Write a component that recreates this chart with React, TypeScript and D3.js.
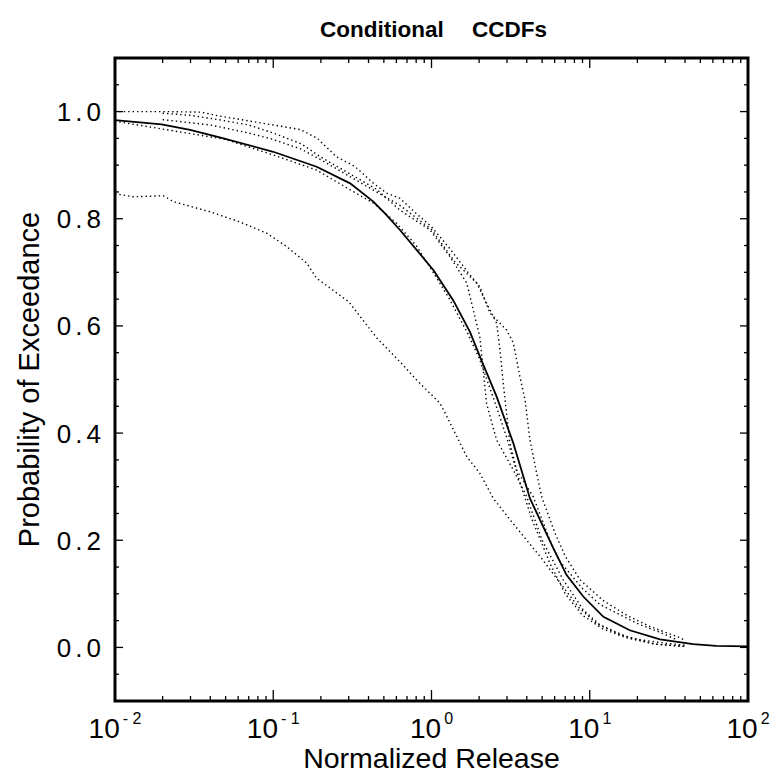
import React from "react";
import * as d3 from "d3";

// ---- data ----
type Pt = [number, number];

const meanCurve: Pt[] = [
  [0.01, 0.984], [0.0197, 0.976], [0.0298, 0.966], [0.0472, 0.951], [0.1, 0.925],
  [0.188, 0.897], [0.306, 0.866], [0.429, 0.832], [0.508, 0.81], [0.632, 0.779],
  [1.03, 0.704], [1.37, 0.648], [1.75, 0.589], [2.02, 0.543], [2.58, 0.468],
  [3.29, 0.381], [4.19, 0.278], [5.89, 0.185], [7.14, 0.135], [9.1, 0.095],
  [12.2, 0.057], [17.9, 0.032], [27.8, 0.015], [45, 0.006], [63, 0.003], [100, 0.002],
];

const seriesA: Pt[] = [
  [0.01, 1.0], [0.02, 1.0], [0.035, 0.999], [0.045, 0.992], [0.1, 0.975], [0.15, 0.966],
  [0.19, 0.95], [0.25, 0.916], [0.33, 0.897], [0.43, 0.866], [0.52, 0.848], [0.632, 0.838],
  [0.8, 0.81], [1.0, 0.785], [1.3, 0.745], [1.7, 0.7], [2.02, 0.673], [2.34, 0.624],
  [2.99, 0.592], [3.29, 0.568], [3.62, 0.505], [3.9, 0.462], [4.19, 0.387], [4.62, 0.325],
  [4.97, 0.281], [6.0, 0.215], [7.0, 0.17], [8.7, 0.126], [12.1, 0.088], [17.1, 0.06],
  [24, 0.039], [33.6, 0.023], [38, 0.017], [40, 0.012],
];

const seriesB: Pt[] = [
  [0.02, 0.997], [0.03, 0.993], [0.045, 0.985], [0.07, 0.975], [0.1, 0.96], [0.15, 0.94],
  [0.2, 0.915], [0.3, 0.885], [0.45, 0.855], [0.632, 0.816], [0.98, 0.779], [1.31, 0.729],
  [1.67, 0.68], [1.75, 0.655], [2.02, 0.58], [2.12, 0.518], [2.23, 0.455], [2.58, 0.387],
  [3.29, 0.331], [4.0, 0.281], [5.0, 0.2], [6.8, 0.126], [9.1, 0.07], [11.6, 0.042],
  [17.1, 0.02], [26, 0.006], [39, 0.002],
];

const seriesC: Pt[] = [
  [0.02, 0.985], [0.04, 0.975], [0.07, 0.96], [0.1, 0.948], [0.15, 0.93], [0.2, 0.91],
  [0.3, 0.88], [0.45, 0.85], [0.632, 0.825], [1.0, 0.78], [1.4, 0.72], [1.93, 0.68],
  [2.23, 0.642], [2.58, 0.605], [2.71, 0.555], [2.84, 0.493], [3.13, 0.381], [3.45, 0.331],
  [4.4, 0.281], [5.6, 0.2], [6.5, 0.16], [9.0, 0.11], [11.6, 0.08], [19.8, 0.045],
  [27.8, 0.028], [35, 0.015],
];

const seriesD: Pt[] = [
  [0.01, 0.982], [0.05, 0.948], [0.1, 0.919], [0.188, 0.891], [0.306, 0.854], [0.43, 0.829],
  [0.6, 0.792], [0.8, 0.75], [1.0, 0.705], [1.3, 0.65], [1.7, 0.585], [2.0, 0.54],
  [2.5, 0.46], [3.0, 0.39], [3.6, 0.31], [4.3, 0.24], [5.6, 0.157], [7.0, 0.1],
  [9.0, 0.06], [12, 0.035], [17, 0.018], [26, 0.006], [40, 0.002],
];

const seriesE: Pt[] = [
  [0.01, 0.847], [0.013, 0.841], [0.0202, 0.843], [0.0234, 0.832], [0.0398, 0.813],
  [0.0617, 0.794], [0.091, 0.773], [0.1217, 0.748], [0.163, 0.717], [0.188, 0.689],
  [0.3, 0.645], [0.45, 0.578], [0.632, 0.533], [0.805, 0.499], [1.13, 0.456], [1.25, 0.431],
  [1.67, 0.356], [2.02, 0.325], [2.46, 0.278], [3.2, 0.235], [4.0, 0.2], [5.0, 0.165],
  [6.5, 0.12], [8.5, 0.075], [11, 0.045], [15, 0.025], [20, 0.015], [30, 0.008], [40, 0.004],
];

const dottedSeries: Pt[][] = [seriesA, seriesB, seriesC, seriesD, seriesE];

const xDecades = [-2, -1, 0, 1, 2];
const yTickLabels = [0.0, 0.2, 0.4, 0.6, 0.8, 1.0];
const titleText = ["Conditional", "CCDFs"];
const xTitle = "Normalized Release";
const yTitle = "Probability of Exceedance";

// ---- layout ----
const W = 780;
const H = 776;
const M = { left: 115, right: 748, top: 58, bottom: 701 };
const FONT = "'Liberation Sans', Arial, Helvetica, sans-serif";

export default function App() {
  const x = d3.scaleLog().domain([0.01, 100]).range([M.left, M.right]);
  const y = d3.scaleLinear().domain([-0.1, 1.1]).range([M.bottom, M.top]);
  const line = d3
    .line<Pt>()
    .x((d) => x(d[0]))
    .y((d) => y(d[1]))
    .curve(d3.curveLinear);

  const xMinor: number[] = [];
  for (let e = -2; e < 2; e++) {
    for (let k = 2; k <= 9; k++) xMinor.push(k * Math.pow(10, e));
  }
  const xMajor = xDecades.map((e) => Math.pow(10, e));
  const yMinor = d3.range(-0.1, 1.1001, 0.05).map((v) => Math.round(v * 100) / 100);

  const tickStroke = { stroke: "#000", strokeWidth: 1.3 };

  return (
    <svg
      width={W}
      height={H}
      style={{ position: "absolute", left: 0, top: 0, background: "#fff" }}
      fontFamily={FONT}
    >
      <rect x={0} y={0} width={W} height={H} fill="#fff" />

      {/* title */}
      <text x={320} y={37} fontSize={22.5} fontWeight="bold" fill="#000">
        {titleText[0]}
      </text>
      <text x={472} y={37} fontSize={22.5} fontWeight="bold" fill="#000">
        {titleText[1]}
      </text>

      {/* curves */}
      <g fill="none">
        {dottedSeries.map((s, i) => (
          <path
            key={i}
            d={line(s) || ""}
            stroke="#000"
            strokeWidth={1.4}
            strokeDasharray="1.4,3"
          />
        ))}
        <path d={line(meanCurve) || ""} stroke="#000" strokeWidth={1.8} />
      </g>

      {/* x ticks bottom & top */}
      <g>
        {xMinor.map((v, i) => (
          <g key={"xm" + i}>
            <line x1={x(v)} x2={x(v)} y1={M.bottom} y2={M.bottom - 5} {...tickStroke} />
            <line x1={x(v)} x2={x(v)} y1={M.top} y2={M.top + 5} {...tickStroke} />
          </g>
        ))}
        {xMajor.map((v, i) => (
          <g key={"xM" + i}>
            <line x1={x(v)} x2={x(v)} y1={M.bottom} y2={M.bottom - 11} {...tickStroke} />
            <line x1={x(v)} x2={x(v)} y1={M.top} y2={M.top + 10} {...tickStroke} />
          </g>
        ))}
      </g>

      {/* y ticks left & right */}
      <g>
        {yMinor.map((v, i) => {
          const major = Math.abs(Math.round(v * 5) - v * 5) < 1e-6;
          const len = major ? 8 : 4;
          return (
            <g key={"y" + i}>
              <line x1={M.left} x2={M.left + len} y1={y(v)} y2={y(v)} {...tickStroke} />
              <line x1={M.right} x2={M.right - len} y1={y(v)} y2={y(v)} {...tickStroke} />
            </g>
          );
        })}
      </g>

      {/* frame */}
      <rect
        x={M.left}
        y={M.top}
        width={M.right - M.left}
        height={M.bottom - M.top}
        fill="none"
        stroke="#000"
        strokeWidth={3}
      />

      {/* y tick labels */}
      <g fontSize={26} letterSpacing={4} textAnchor="end" fill="#000">
        {yTickLabels.map((v) => (
          <text key={v} x={105} y={y(v) + 9.5}>
            {d3.format(".1f")(v)}
          </text>
        ))}
      </g>

      {/* x tick labels */}
      <g textAnchor="middle" fill="#000">
        {xDecades.map((e) => (
          <text key={e} x={x(Math.pow(10, e))} y={738} fontSize={28}>
            10
            <tspan fontSize={16} dx={3} dy={-14}>
              {e < 0 ? "- " + Math.abs(e) : String(e)}
            </tspan>
          </text>
        ))}
      </g>

      {/* axis titles */}
      <text x={(M.left + M.right) / 2} y={768} fontSize={28.5} textAnchor="middle" fill="#000">
        {xTitle}
      </text>
      <text
        transform={`translate(39, ${(M.top + M.bottom) / 2}) rotate(-90)`}
        fontSize={29}
        textAnchor="middle"
        fill="#000"
      >
        {yTitle}
      </text>
    </svg>
  );
}
